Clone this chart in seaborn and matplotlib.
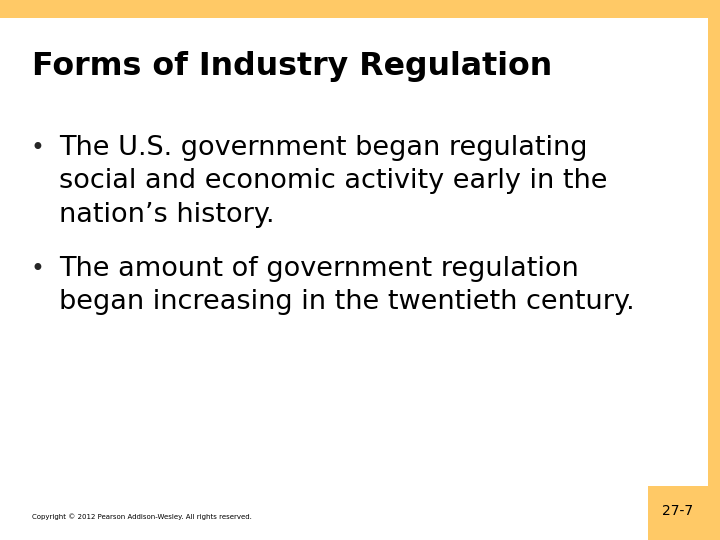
import matplotlib
matplotlib.use("Agg")
import matplotlib.pyplot as plt
import seaborn as sns
from matplotlib.patches import Rectangle

title = "Forms of Industry Regulation"
bullets = [
    ["The U.S. government began regulating",
     "social and economic activity early in the",
     "nation\u2019s history."],
    ["The amount of government regulation",
     "began increasing in the twentieth century."],
]
footer = "Copyright \u00a9 2012 Pearson Addison-Wesley. All rights reserved."
slide_no = "27-7"

sns.set_theme(style="white")
plt.rcParams['font.family'] = ['DejaVu Sans']

yellow = "#FFC966"
fig = plt.figure(figsize=(7.2, 5.4), dpi=100)
ax = fig.add_axes([0, 0, 1, 1])
ax.set_xlim(0, 720)
ax.set_ylim(540, 0)
ax.axis("off")

# yellow frame pieces
ax.add_patch(Rectangle((0, 0), 720, 18, color=yellow, lw=0))
ax.add_patch(Rectangle((708, 0), 12, 540, color=yellow, lw=0))
ax.add_patch(Rectangle((648, 486), 72, 54, color=yellow, lw=0))

ax.text(32, 66, title, fontsize=22.8, fontweight="bold", color="black", va="center")

y = 148
for lines in bullets:
    ax.text(30, y, "\u2022", fontsize=17, va="center")
    for line in lines:
        ax.text(59, y, line, fontsize=19.5, va="center", color="black")
        y += 33.5
    y += 20

ax.text(32, 517, footer, fontsize=5, va="center", color="black")
ax.text(678, 511, slide_no, fontsize=10, va="center", ha="center", color="black")

fig.savefig("out.png", dpi=100)
